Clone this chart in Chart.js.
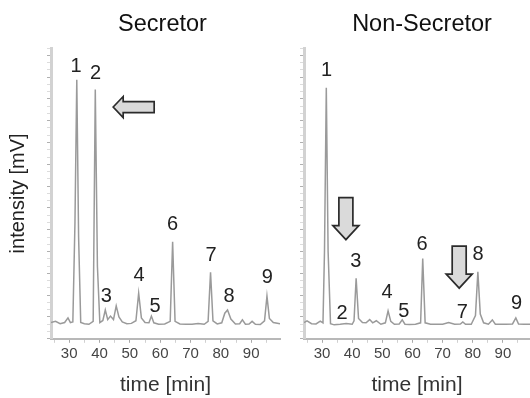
<!DOCTYPE html>
<html><head><meta charset="utf-8">
<script src="https://cdn.jsdelivr.net/npm/chart.js@4.4.1/dist/chart.umd.min.js"></script>
<style>
html,body{margin:0;padding:0;background:#fff;width:530px;height:398px;overflow:hidden}
#c1{position:absolute;left:0;top:0}
#c2{position:absolute;left:285px;top:0}
</style></head><body>
<canvas id="c1" width="290" height="398"></canvas>
<canvas id="c2" width="245" height="398"></canvas>
<script>
// ---- data ----
const panelTitles = ['Secretor', 'Non-Secretor'];
const xTickLabels = [30, 40, 50, 60, 70, 80, 90];
const peakNames = ['1','2','3','4','5','6','7','8','9'];

const secretorTime = [24,25.5,27,28.5,29.6,30.4,31.2,31.9,32.5,33.1,33.8,35,36.5,37.9,38.6,39.3,40.1,41.1,41.9,42.7,43.6,44.6,45.5,46.4,47.5,49,50.5,52,52.9,53.8,55,56.3,57.1,57.9,59.5,61.5,63.3,64.1,64.9,66.5,68.5,70.5,72.5,74.5,75.8,76.6,77.4,78.8,80.3,81.3,82.2,83.3,84.8,86.2,87.1,88.1,89.3,90.3,91.4,93,94.4,95.2,96,97.3,99.5];
const secretorIntensity = [5.6,6.0,5.2,5.6,7.2,5.6,5.8,40,89.1,35,5.6,5.2,5.0,6.0,85.7,25,5.6,6.3,9.9,6.6,7.8,6.6,11.3,7.5,5.8,5.2,5.3,6.2,15.7,7.2,5.6,5.5,7.8,5.5,5.0,5.1,6.0,33.4,6.0,5.1,5.0,5.0,5.3,5.0,6.0,22.9,6.2,5.1,5.5,8.8,9.9,6.8,5.1,5.2,6.5,5.0,5.1,6.0,5.0,4.9,6.2,14.7,7.0,5.6,5.2];

const nonSecretorTime = [24,25,26.5,28,29.4,30.3,30.8,31.4,32.0,32.8,34,36,38,40,40.6,41.3,42.1,43.4,44.6,45.8,46.8,48,49.5,51,51.9,52.8,54,55.6,56.6,57.5,59,61,62.7,63.4,64.2,66,68,70,72,74,75.9,76.7,77.6,79.5,80.9,81.7,82.5,83.6,85.2,86.5,87.5,89,91,93.2,94.3,95.2,97,99];
const nonSecretorIntensity = [5.6,6.2,5.2,5.1,6.1,5.5,30,86.3,30,5.2,4.8,5.0,5.3,5.0,6.2,20.8,7.0,5.6,5.5,6.6,5.5,6.2,5.0,5.5,9.6,6.0,5.0,5.1,6.5,5.0,4.9,5.0,5.5,27.6,5.5,5.0,5.0,5.0,5.6,5.0,5.1,5.8,5.0,5.0,8.0,23.0,8.5,5.5,5.0,6.5,5.0,5.0,5.0,5.1,7.2,5.1,5.0,5.0];

// peak label anchors (time, intensity of label centre)
const secretorLabelTime  = [32.25,38.7,42.2,53.0,58.3,64.1,76.8,82.7,95.3];
const secretorLabelLevel = [94.2,91.8,15.0,22.5,11.6,39.8,29.2,15.0,21.7];
const nonSecretorLabelTime  = [31.45,36.6,41.2,51.6,57.1,63.2,76.5,81.8,94.5];
const nonSecretorLabelLevel = [92.8,9.4,27.1,16.4,10.1,32.9,9.7,29.5,12.6];

// arrow tips (time, intensity)
const secretorArrowTime = [44.5];
const secretorArrowLevel = [79.7];
const nonSecretorArrowTime = [37.9, 75.5];
const nonSecretorArrowLevel = [34.1, 17.4];

// ---- drawing ----
const FONT = '"Liberation Sans", Arial, Helvetica, sans-serif';
Chart.defaults.font.family = FONT;

function drawArrow(ctx, tx, ty, dir, len, headLen, headW, shaftW) {
  const d = dir === 'left' ? [-1, 0] : [0, 1];
  const p = [-d[1], d[0]];
  const pts = [[0,0],[-headLen, headW/2],[-headLen, shaftW/2],[-len, shaftW/2],[-len,-shaftW/2],[-headLen,-shaftW/2],[-headLen,-headW/2]];
  ctx.beginPath();
  pts.forEach(([u,v], i) => {
    const X = tx + u*d[0] + v*p[0];
    const Y = ty + u*d[1] + v*p[1];
    if (i === 0) ctx.moveTo(X, Y); else ctx.lineTo(X, Y);
  });
  ctx.closePath();
  ctx.fillStyle = '#dadada';
  ctx.fill();
  ctx.lineWidth = 1.7;
  ctx.strokeStyle = '#2b2b2b';
  ctx.lineJoin = 'miter';
  ctx.stroke();
}

const annotPlugin = {
  id: 'annot',
  afterDraw(chart, args, o) {
    const {ctx, scales: {x, y}} = chart;
    ctx.save();
    ctx.fillStyle = '#111';
    ctx.font = '23.5px ' + FONT;
    ctx.textAlign = 'center';
    ctx.textBaseline = 'alphabetic';
    ctx.fillText(o.title, o.titleX, 31);
    ctx.font = '20px ' + FONT;
    ctx.fillStyle = '#222';
    o.names.forEach((n, i) => {
      ctx.fillText(n, x.getPixelForValue(o.lt[i]), y.getPixelForValue(o.lv[i]) + 7.2);
    });
    o.at.forEach((t, i) => {
      const a = o.arrowStyle;
      drawArrow(ctx, x.getPixelForValue(t), y.getPixelForValue(o.av[i]), a.dir, a.len, a.head, a.headW, a.shaftW);
    });
    ctx.restore();
  }
};

function makeChart(id, times, values, xmax, showYTitle, padLeft, padRight, annot) {
  const pts = times.map((t, i) => ({x: t, y: values[i]}));
  return new Chart(document.getElementById(id), {
    type: 'line',
    data: {datasets: [{data: pts, borderColor: '#9a9a9a', borderWidth: 1.5, pointRadius: 0, tension: 0, fill: false}]},
    options: {
      responsive: false, animation: false, devicePixelRatio: 1,
      layout: {padding: {top: 48, left: padLeft, right: padRight, bottom: 0}},
      plugins: {legend: {display: false}, tooltip: {enabled: false}, annot: annot},
      scales: {
        x: {
          type: 'linear', min: 24, max: xmax,
          afterBuildTicks: s => { const v = []; for (let k = 25; k < xmax; k += 5) v.push({value: k}); s.ticks = v; },
          ticks: {autoSkip: false, maxRotation: 0, padding: 2, color: '#444', font: {size: 15},
                  callback: v => xTickLabels.includes(v) ? String(v) : ''},
          grid: {drawOnChartArea: false, drawTicks: true, tickLength: 4,
                 tickColor: c => (c.tick && c.tick.value % 10 === 0) ? '#aaa' : '#d0d0d0'},
          border: {color: '#b8b8b8', width: 2},
          title: {display: true, text: 'time [min]', color: '#333', font: {size: 21}, padding: {top: 8, bottom: 0}}
        },
        y: {
          min: 0, max: 100,
          ticks: {display: false, stepSize: 2.5},
          grid: {drawOnChartArea: false, drawTicks: true, tickLength: 4,
                 tickColor: c => (c.tick && Math.abs(c.tick.value % 7.5) < 0.01) ? '#b0b0b0' : '#dcdcdc'},
          border: {color: '#d2d2d2', width: 3},
          title: {display: showYTitle, text: 'intensity [mV]', color: '#222', font: {size: 20}, padding: {top: 6, bottom: 17}}
        }
      }
    },
    plugins: [annotPlugin]
  });
}

const leftArrow = {dir: 'left', len: 41, head: 10, headW: 21, shaftW: 11};
const downArrow = {dir: 'down', len: 42, head: 14, headW: 26, shaftW: 14};

makeChart('c1', secretorTime, secretorIntensity, 99.5, true, 0, 10,
  {title: panelTitles[0], titleX: 162.5, names: peakNames, lt: secretorLabelTime, lv: secretorLabelLevel,
   at: secretorArrowTime, av: secretorArrowLevel, arrowStyle: leftArrow});
makeChart('c2', nonSecretorTime, nonSecretorIntensity, 99, false, 15, 0,
  {title: panelTitles[1], titleX: 137, names: peakNames, lt: nonSecretorLabelTime, lv: nonSecretorLabelLevel,
   at: nonSecretorArrowTime, av: nonSecretorArrowLevel, arrowStyle: downArrow});
</script>
</body></html>
